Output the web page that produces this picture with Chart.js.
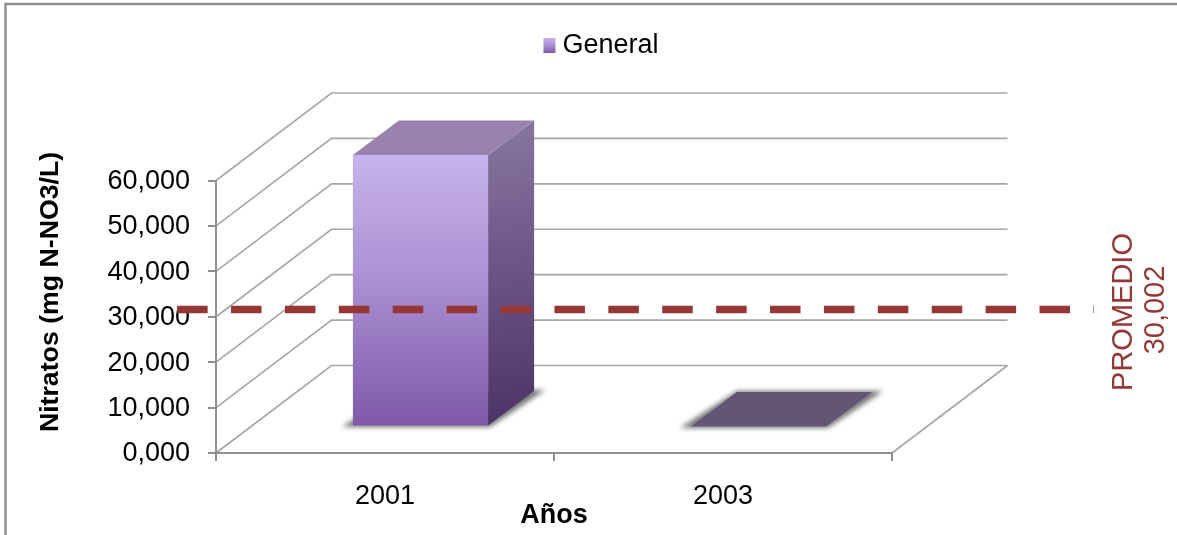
<!DOCTYPE html>
<html>
<head>
<meta charset="utf-8">
<style>html,body{margin:0;padding:0;background:#fff}#w{width:1177px;height:535px;position:relative}canvas{filter:blur(0.4px)}</style>
<script src="https://cdn.jsdelivr.net/npm/chart.js@4"></script>
</head>
<body>
<div id="w"><canvas id="c"></canvas></div>
<script>
const categories = ['2001', '2003'];
const seriesName = 'General';
const generalValues = [59.8, 0];
const promedioValue = 30.002;
const promedioLabel = ['PROMEDIO', '30,002'];
const yTitle = 'Nitratos (mg N-NO3/L)';
const xTitle = 'Años';

const FONT = '"Liberation Sans", Arial, sans-serif';
const FS = 27;
const AXIS = '#8f8f8f', GRID = '#a6a6a6', RED = '#953735';
const DEPTH = {x: 115.5, y: -87.5};        // full depth of the 3D box
const FRONT = {x: 35.5, y: -26.5};         // front plane of the bars
const BAR_D = {x: 46, y: -34.5};           // depth of a bar
const topColors = ['#9782b0', '#635574'];

function vGrad(ctx, y0, y1, stops) {
  const g = ctx.createLinearGradient(0, y0, 0, y1);
  stops.forEach(s => g.addColorStop(s[0], s[1]));
  return g;
}
const FACE = [[0, '#c8b3ec'], [0.45, '#ab91d3'], [1, '#7e59a8']];

// The library splits a category slot between the x axes in use, so the bar sits
// half a bar left of the category centre; frontShift re-centres it on the tick.
const frontShift = el => FRONT.x + el.width / 2;

const plugin3d = {
  id: 'plugin3d',
  beforeDraw(chart) {
    const {ctx, scales: {x, y}} = chart;
    ctx.save();
    ctx.strokeStyle = '#8f8f8f'; ctx.lineWidth = 2.5;
    ctx.beginPath(); ctx.moveTo(5.5, 535); ctx.lineTo(5.5, 4); ctx.lineTo(1177, 4); ctx.stroke();
    ctx.strokeStyle = GRID; ctx.lineWidth = 1.6;
    y.ticks.forEach(t => {
      const py = y.getPixelForValue(t.value);
      ctx.beginPath();
      ctx.moveTo(x.left, py);
      ctx.lineTo(x.left + DEPTH.x, py + DEPTH.y);
      ctx.lineTo(x.right + DEPTH.x, py + DEPTH.y);
      ctx.stroke();
    });
    const by = y.getPixelForValue(0);
    ctx.beginPath();
    ctx.moveTo(x.right, by);
    ctx.lineTo(x.right + DEPTH.x, by + DEPTH.y);
    ctx.stroke();
    ctx.restore();
  },
  beforeDatasetDraw(chart, args) {
    if (args.index !== 0) return;
    const {ctx} = chart;
    const els = args.meta.data;
    ctx.save();
    els.forEach(el => {
      const sx = frontShift(el);
      const l = el.x - el.width / 2 + sx, r = el.x + el.width / 2 + sx, b = el.base + FRONT.y;
      ctx.save();
      ctx.filter = 'blur(2.5px)';
      ctx.fillStyle = '#777777';
      ctx.beginPath();
      ctx.moveTo(l - 11, b + 1.5);
      ctx.lineTo(r + 2, b + 1.5);
      ctx.lineTo(r + BAR_D.x + 11, b + BAR_D.y - 1);
      ctx.lineTo(l + BAR_D.x, b + BAR_D.y - 1);
      ctx.closePath();
      ctx.fill();
      ctx.restore();
    });
    ctx.translate(frontShift(els[0]), FRONT.y);
  },
  afterDatasetDraw(chart, args) {
    if (args.index !== 0) return;
    const {ctx} = chart;
    ctx.restore();
    args.meta.data.forEach((el, i) => {
      const sx = frontShift(el);
      const l = el.x - el.width / 2 + sx, r = el.x + el.width / 2 + sx;
      const t = el.y + FRONT.y, b = el.base + FRONT.y;
      ctx.save();
      if (b - t > 1) {
        const g = ctx.createLinearGradient(r, t + BAR_D.y, r + BAR_D.x, b);
        g.addColorStop(0, '#8a77a1');
        g.addColorStop(0.5, '#6a5386');
        g.addColorStop(1, '#4a3465');
        ctx.fillStyle = g;
        ctx.beginPath();
        ctx.moveTo(r, t); ctx.lineTo(r + BAR_D.x, t + BAR_D.y);
        ctx.lineTo(r + BAR_D.x, b + BAR_D.y); ctx.lineTo(r, b);
        ctx.closePath(); ctx.fill();
      }
      ctx.fillStyle = topColors[i];
      ctx.beginPath();
      ctx.moveTo(l, t); ctx.lineTo(r, t);
      ctx.lineTo(r + BAR_D.x, t + BAR_D.y); ctx.lineTo(l + BAR_D.x, t + BAR_D.y);
      ctx.closePath(); ctx.fill();
      ctx.restore();
    });
  },
  afterDraw(chart) {
    const {ctx} = chart;
    ctx.save();
    // legend swatch
    const hb = chart.legend.legendHitBoxes[0];
    const cy = hb.top + hb.height / 2;
    ctx.fillStyle = vGrad(ctx, cy - 7.5, cy + 7.5, FACE);
    ctx.fillRect(hb.left, cy - 7.5, 12, 15);
    ctx.textAlign = 'center';
    ctx.textBaseline = 'middle';
    ctx.save();
    ctx.translate(51, 292);
    ctx.rotate(-Math.PI / 2);
    ctx.font = 'bold 26.7px ' + FONT;
    ctx.fillStyle = '#000';
    ctx.fillText(yTitle, 0, 0);
    ctx.restore();
    ctx.fillStyle = RED;
    ctx.font = '29px ' + FONT;
    ctx.save();
    ctx.translate(1123.5, 312);
    ctx.rotate(-Math.PI / 2);
    ctx.fillText(promedioLabel[0], 0, 0);
    ctx.restore();
    ctx.save();
    ctx.translate(1156, 310);
    ctx.rotate(-Math.PI / 2);
    ctx.fillText(promedioLabel[1], 0, 0);
    ctx.restore();
    ctx.restore();
  }
};

new Chart(document.getElementById('c'), {
  type: 'bar',
  plugins: [plugin3d],
  data: {
    labels: categories,
    datasets: [
      {
        label: seriesName,
        data: generalValues,
        order: 1,
        clip: false,
        categoryPercentage: 0.8,
        barPercentage: 1,
        borderWidth: 0,
        backgroundColor(c) {
          const s = c.chart.scales;
          if (!s.y) return '#ab91d3';
          return vGrad(c.chart.ctx, s.y.getPixelForValue(generalValues[0]), s.y.getPixelForValue(0), FACE);
        }
      },
      {
        type: 'line',
        label: 'PROMEDIO',
        data: [{x: -0.0575, y: promedioValue}, {x: 1.2988, y: promedioValue}],
        xAxisID: 'x2',
        yAxisID: 'y2',
        order: 0,
        clip: false,
        borderColor: RED,
        borderWidth: 7.5,
        borderDash: [30.5, 23.4],
        borderCapStyle: 'butt',
        pointRadius: 0,
        fill: false
      }
    ]
  },
  options: {
    responsive: true,
    maintainAspectRatio: false,
    animation: false,
    layout: {padding: {left: 25, right: 0, top: 0, bottom: 0}},
    plugins: {
      tooltip: {enabled: false},
      legend: {
        position: 'top',
        labels: {
          color: '#000',
          font: {family: FONT, size: FS},
          padding: 32,
          boxWidth: 5.5,
          boxHeight: 15,
          generateLabels() {
            return [{
              text: seriesName,
              datasetIndex: 0,
              fillStyle: 'rgba(0,0,0,0)',
              strokeStyle: 'rgba(0,0,0,0)',
              lineWidth: 0,
              fontColor: '#000'
            }];
          }
        }
      }
    },
    scales: {
      x: {
        type: 'category',
        position: 'bottom',
        afterFit: s => { s.height = 82; },
        grid: {offset: true, drawOnChartArea: false, drawTicks: true, tickLength: 8, color: AXIS, lineWidth: 2},
        border: {color: AXIS, width: 2},
        ticks: {color: '#000', font: {family: FONT, size: FS}, padding: 19, maxRotation: 0},
        title: {display: true, text: xTitle, color: '#000', font: {family: FONT, size: FS, weight: 'bold'}, padding: {top: 0, bottom: 3}}
      },
      y: {
        type: 'linear',
        position: 'left',
        min: 0,
        max: 60,
        afterFit: s => { s.width = 191; },
        grid: {drawOnChartArea: false, drawTicks: true, tickLength: 8, color: AXIS, lineWidth: 2},
        border: {color: AXIS, width: 2},
        ticks: {
          stepSize: 10,
          color: '#000',
          font: {family: FONT, size: FS},
          padding: 18,
          labelOffset: 1,
          callback: v => v.toFixed(3).replace('.', ',')
        }
      },
      x2: {
        type: 'linear',
        position: 'top',
        offset: false,
        min: 0,
        max: 1,
        afterFit: s => { s.height = 111.5; },
        grid: {display: false},
        border: {display: false},
        ticks: {display: false}
      },
      y2: {
        type: 'linear',
        position: 'right',
        min: -1.62,
        max: 58.38,
        afterFit: s => { s.width = 285; },
        grid: {display: false},
        border: {display: false},
        ticks: {display: false}
      }
    }
  }
});
</script>
</body>
</html>
